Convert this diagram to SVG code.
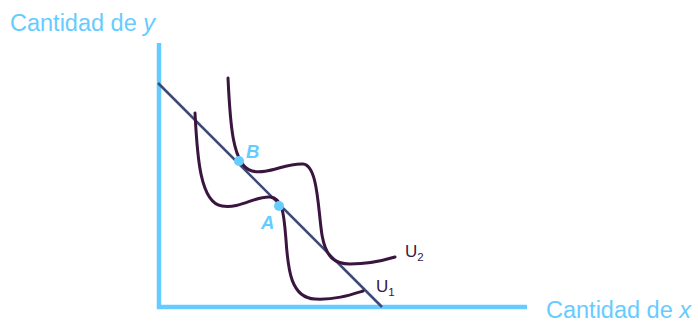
<svg xmlns="http://www.w3.org/2000/svg" width="698" height="322" viewBox="0 0 698 322">
<style>
.axis{stroke:#66ccff;stroke-width:4.5;fill:none}
.curve{stroke:#3a1540;stroke-width:3;fill:none;stroke-linecap:round}
.budget{stroke:#3b4a78;stroke-width:2.6;fill:none}
.axlab{font-family:"Liberation Sans",Arial,sans-serif;font-size:23.5px;fill:#66ccff}
.ulab{font-family:"Liberation Sans",Arial,sans-serif;font-size:17px;fill:#3a1540}
.sub{font-size:11.5px}
.pt{fill:#66ccff}
.ptlab{font-family:"Liberation Sans",Arial,sans-serif;font-size:18.5px;font-weight:bold;font-style:italic;fill:#66ccff}
</style>
<g id="axes">
<path class="axis" d="M159,43 V307 H527"/>
<text class="axlab" x="10" y="31">Cantidad de <tspan font-style="italic">y</tspan></text>
<text class="axlab" x="546" y="318">Cantidad de <tspan font-style="italic">x</tspan></text>
</g>
<g id="connectors">
<line class="budget" x1="158" y1="83" x2="382" y2="307"/>
</g>
<g id="U1">
<path class="curve" d="M195,113 C197,150 199,203 222,206 C240,209 255,196 270,197 C283,198 284,215 286,240 C288,270 291,298 315,299 C335,300 350,295 363,291"/>
<text class="ulab" x="376" y="292">U<tspan class="sub" dy="4">1</tspan></text>
</g>
<g id="U2">
<path class="curve" d="M228,78 C230,120 232,166 252,171 C268,175 285,163 303,164 C318,165 318,210 322,235 C326,258 335,264 350,264 C370,264 385,260 395,257"/>
<text class="ulab" x="405" y="257">U<tspan class="sub" dy="4">2</tspan></text>
</g>
<g id="B">
<circle class="pt" cx="239" cy="161" r="5"/>
<text class="ptlab" x="246" y="158">B</text>
</g>
<g id="A">
<circle class="pt" cx="279" cy="206" r="5"/>
<text class="ptlab" x="261" y="229">A</text>
</g>
</svg>
